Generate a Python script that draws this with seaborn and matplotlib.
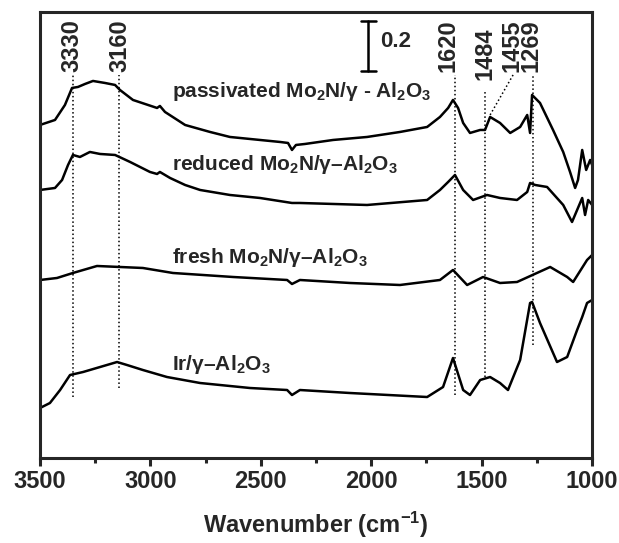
import matplotlib
matplotlib.use("Agg")
import matplotlib.pyplot as plt
from matplotlib.ticker import MultipleLocator
import seaborn as sns
import pandas as pd

# spectra: wavenumber (cm-1) and absorbance (offset already included)
wn_passivated = [3500, 3432, 3387, 3355, 3328, 3296, 3260, 3206, 3160, 3138, 3079, 2970, 2957, 2934,
                 2843, 2730, 2640, 2504, 2413, 2377, 2359, 2341, 2300, 2173, 2019, 1870, 1747, 1689,
                 1652, 1630, 1607, 1584, 1553, 1507, 1485, 1462, 1417, 1371, 1326, 1294, 1281, 1272,
                 1236, 1177, 1131, 1100, 1077, 1064, 1045, 1027, 1009, 1000]
abs_passivated = [1.332, 1.352, 1.412, 1.48, 1.484, 1.496, 1.508, 1.50, 1.492, 1.472, 1.432, 1.40, 1.408, 1.384,
                  1.332, 1.304, 1.284, 1.272, 1.264, 1.26, 1.232, 1.252, 1.256, 1.272, 1.284, 1.304, 1.324, 1.364,
                  1.40, 1.432, 1.40, 1.34, 1.30, 1.312, 1.312, 1.364, 1.34, 1.30, 1.324, 1.372, 1.30, 1.452,
                  1.42, 1.312, 1.224, 1.144, 1.08, 1.112, 1.232, 1.152, 1.192, 1.172]

wn_reduced = [3500, 3432, 3400, 3373, 3351, 3319, 3274, 3228, 3160, 3092, 3002, 2970, 2957, 2911, 2843,
              2775, 2640, 2504, 2359, 2323, 2019, 1747, 1689, 1652, 1621, 1584, 1539, 1476, 1417, 1340,
              1294, 1281, 1258, 1204, 1131, 1091, 1045, 1032, 1018, 1000]
abs_reduced = [1.072, 1.08, 1.112, 1.172, 1.212, 1.204, 1.224, 1.216, 1.212, 1.184, 1.144, 1.136, 1.144, 1.12, 1.092,
               1.072, 1.052, 1.04, 1.02, 1.02, 1.012, 1.032, 1.072, 1.104, 1.132, 1.072, 1.032, 1.052, 1.04, 1.032,
               1.064, 1.10, 1.092, 1.084, 1.012, 0.944, 1.04, 0.972, 1.032, 1.012]

wn_fresh = [3500, 3423, 3351, 3242, 3138, 3034, 2898, 2626, 2381, 2359, 2323, 2096, 1870, 1689, 1630,
            1566, 1494, 1417, 1340, 1190, 1113, 1086, 1023, 1000]
abs_fresh = [0.712, 0.72, 0.74, 0.768, 0.764, 0.76, 0.74, 0.724, 0.712, 0.696, 0.712, 0.70, 0.692, 0.712, 0.752,
             0.692, 0.724, 0.70, 0.704, 0.764, 0.724, 0.704, 0.792, 0.812]

wn_ir = [3500, 3455, 3409, 3364, 3305, 3228, 3151, 3106, 3034, 2925, 2775, 2549, 2381, 2359, 2323, 2096,
         1747, 1675, 1630, 1584, 1553, 1507, 1462, 1417, 1381, 1326, 1281, 1272, 1236, 1159, 1113, 1068,
         1045, 1023, 1000]
abs_ir = [0.20, 0.22, 0.272, 0.332, 0.344, 0.364, 0.384, 0.372, 0.352, 0.324, 0.30, 0.28, 0.272, 0.252, 0.272, 0.26,
          0.244, 0.284, 0.40, 0.272, 0.252, 0.312, 0.324, 0.30, 0.272, 0.392, 0.62, 0.624, 0.54, 0.384, 0.404, 0.512,
          0.564, 0.62, 0.632]

series_labels = [r'passivated Mo$_2$N/$\mathit{\gamma}$ - Al$_2$O$_3$',
                 r'reduced Mo$_2$N/$\mathit{\gamma–}$Al$_2$O$_3$',
                 r'fresh Mo$_2$N/$\mathit{\gamma–}$Al$_2$O$_3$',
                 r'$\mathit{Ir/\gamma–}$Al$_2$O$_3$']
label_y = [1.444, 1.152, 0.78, 0.352]

# peak markers: label text, line position (cm-1), line top/bottom, label position
peak_text = ['3330', '3160', '1620', '1484', '1455', '1269']
peak_line_x = [3351, 3142, 1620, 1484, 1484, 1269]
peak_line_top = [1.532, 1.532, 1.532, 1.472, 1.532, 1.532]
peak_line_bot = [0.244, 0.28, 0.252, 0.324, 0.324, 0.452]
peak_text_x = [3355, 3138, 1652, 1485, 1362, 1278]
peak_text_y = [1.544, 1.544, 1.544, 1.512, 1.544, 1.544]

sns.set_style("ticks")
plt.rcParams['font.family'] = ['Liberation Sans', 'DejaVu Sans']
plt.rcParams['font.weight'] = 'bold'
plt.rcParams['mathtext.fontset'] = 'custom'
plt.rcParams['mathtext.rm'] = 'Liberation Sans:bold'
plt.rcParams['mathtext.bf'] = 'Liberation Sans:bold'
plt.rcParams['mathtext.it'] = 'Liberation Sans'
plt.rcParams['mathtext.default'] = 'rm'

fig = plt.figure(figsize=(6.19, 5.43), dpi=100)
ax = fig.add_axes([0.0646, 0.1565, 0.892, 0.8215])

spectra = [(wn_passivated, abs_passivated), (wn_reduced, abs_reduced),
           (wn_fresh, abs_fresh), (wn_ir, abs_ir)]
for wn, a in spectra:
    df = pd.DataFrame({'wn': wn, 'a': a})
    sns.lineplot(data=df, x='wn', y='a', color='black', linewidth=1.8, ax=ax, sort=False)

for txt, yy in zip(series_labels, label_y):
    ax.text(2902, yy, txt, fontsize=15, fontweight='bold', ha='left', va='baseline')

# dotted guide lines
for i in range(len(peak_text)):
    if peak_text[i] == '1455':
        ax.plot([1358, 1462], [peak_line_top[i], 1.372], color='black', ls=':', lw=1.1)
    else:
        ax.plot([peak_line_x[i], peak_line_x[i]], [peak_line_bot[i], peak_line_top[i]],
                color='black', ls=':', lw=1.1)
    ax.text(peak_text_x[i], peak_text_y[i], peak_text[i], rotation=90, fontsize=17,
            fontweight='bold', ha='center', va='bottom')

# scale bar 0.2
ax.plot([2014, 2014], [1.548, 1.748], color='black', lw=1.8)
ax.plot([2046, 1978], [1.548, 1.548], color='black', lw=1.8)
ax.plot([2046, 1978], [1.748, 1.748], color='black', lw=1.8)
ax.text(1960, 1.665, '0.2', fontsize=16, fontweight='bold', ha='left', va='center')

ax.set_xlim(3500, 1000)
ax.set_ylim(0, 1.784)
ax.xaxis.set_major_locator(MultipleLocator(500))
ax.xaxis.set_minor_locator(MultipleLocator(250))
ax.tick_params(axis='x', which='major', length=6, width=2.2, direction='out', labelsize=17, pad=2.5)
ax.tick_params(axis='x', which='minor', length=3.5, width=2.2, direction='out')
ax.set_yticks([])
for lab in ax.get_xticklabels():
    lab.set_fontweight('bold')
for s in ax.spines.values():
    s.set_linewidth(2.2)
    s.set_visible(True)
ax.set_xlabel(r'Wavenumber (cm$^{\mathbf{-1}}$)', fontsize=17, fontweight='bold', labelpad=12)
ax.set_ylabel('')

fig.savefig('out.png', dpi=100)
